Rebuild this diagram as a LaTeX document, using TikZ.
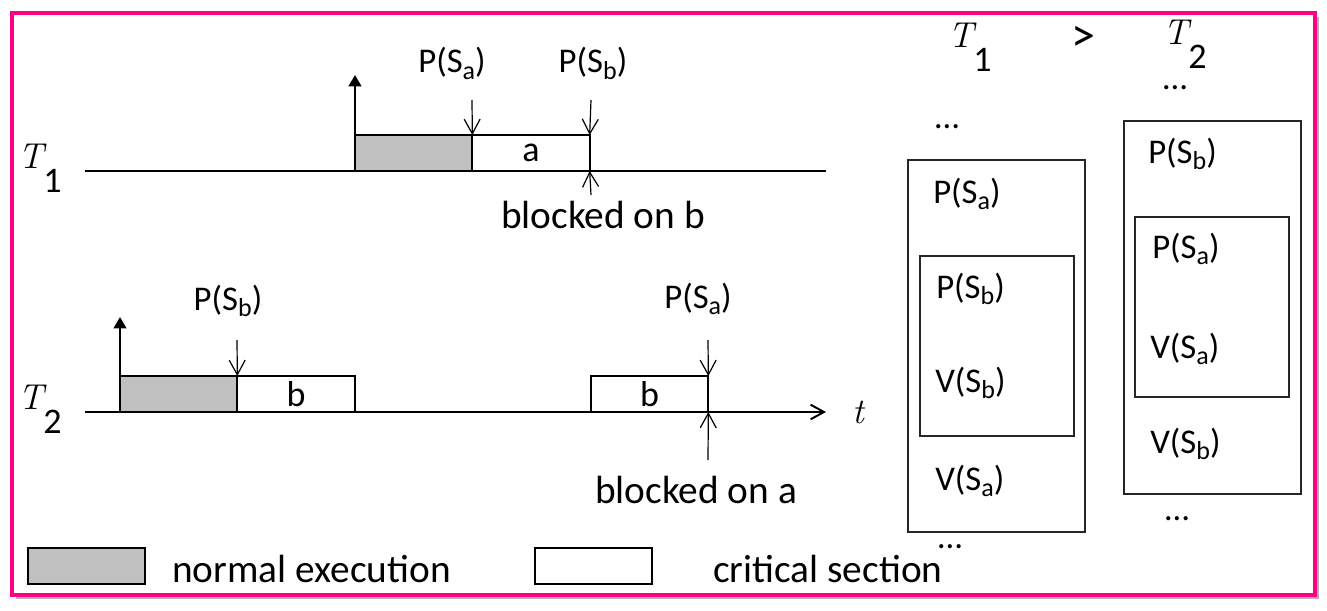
\documentclass[tikz,border=0pt]{standalone}
\usepackage{fontspec}
\setmainfont{Carlito}
\newfontfamily\lmrfont{Latin Modern Roman}
\usetikzlibrary{arrows,arrows.meta,positioning,shadows}
\definecolor{framepink}{RGB}{255,0,128}
\definecolor{runfill}{RGB}{192,192,192}
\newcommand{\fsz}[1]{\fontsize{#1}{#1}\selectfont}
\newcommand{\tsk}[1]{{\lmrfont\itshape T}\raisebox{-18pt}{#1}}
\newcommand{\sem}[2]{#1(S\raisebox{-0.2em}{\scalebox{0.75}{#2}})}
\tikzset{
  slot/.style = {draw=black, line width=1.5pt, outer sep=0pt, inner sep=0pt, minimum width=88pt, minimum height=27pt, font=\fsz{27}},
  run_box/.style = {slot, fill=runfill},
  cs_box/.style = {slot, fill=white},
  axis/.style = {line width=1.5pt},
  start_arrow/.style = {line width=1.5pt, -{Triangle[length=8.5pt,width=9.5pt]}},
  sem_arrow/.style = {line width=0.9pt, -{Straight Barb[length=11pt,width=12pt]}},
  p_lbl/.style = {font=\fsz{26}, anchor=base, inner sep=0pt},
  note_lbl/.style = {font=\fsz{29.5}, anchor=base, inner sep=0pt},
  name_lbl/.style = {font=\fsz{27}, anchor=base west, inner sep=0pt},
  code_box/.style = {draw=black!85, line width=1.1pt, anchor=north west, outer sep=0pt, inner sep=0pt},
  code_lbl/.style = {font=\fsz{26}, anchor=base west, inner sep=0pt},
  dots_lbl/.style = {font=\fsz{26}, inner sep=0pt},
  frame_box/.style = {draw=framepink, line width=3pt, fill=white,
    drop shadow={shadow xshift=3pt, shadow yshift=-3pt, fill=black!50, opacity=0.6}},
}
\begin{document}
\begin{tikzpicture}[x=0.75pt, y=-0.75pt]
  \useasboundingbox (0,0) rectangle (1327,610);
  \draw[frame_box] (12,13) rectangle (1315,595);

  % T1 timeline
  \node[name_lbl] (t1_name) at (18,168) {\tsk{1}};
  \coordinate (t1_from) at (85,171);
  \coordinate (t1_to) at (826,171);
  \draw[axis] (t1_from) -- (t1_to);
  \node[run_box, anchor=south west] (t1_run) at (355,171) {};
  \node[cs_box, right=0pt of t1_run] (t1_cs) {a};
  \coordinate (t1_start) at (355,75);
  \draw[start_arrow] (t1_run.south west) -- (t1_start);
  \coordinate (t1_pa) at (472,100);
  \draw[sem_arrow] (t1_pa) -- (t1_cs.north west);
  \node[p_lbl] (t1_pa_lbl) at (452,73) {\sem{P}{a}};
  \coordinate (t1_pb) at (591,100);
  \draw[sem_arrow] (t1_pb) -- (t1_cs.north east);
  \node[p_lbl] (t1_pb_lbl) at (593,73) {\sem{P}{b}};
  \coordinate (t1_blk) at (591,195);
  \draw[sem_arrow] (t1_blk) -- (t1_cs.south east);
  \node[note_lbl] (t1_blk_lbl) at (603,228) {blocked on b};

  % T2 timeline
  \node[name_lbl] (t2_name) at (18,409) {\tsk{2}};
  \coordinate (t2_from) at (85,412);
  \coordinate (t2_to) at (826,412);
  \draw[axis, -{Straight Barb[length=10pt,width=11pt]}] (t2_from) -- (t2_to);
  \node[name_lbl, font=\fsz{27}\lmrfont\itshape] (t_name) at (852,423) {t};
  \node[run_box, anchor=south west] (t2_run) at (120,412) {};
  \node[cs_box, right=0pt of t2_run] (t2_cs) {b};
  \coordinate (t2_start) at (120,317);
  \draw[start_arrow] (t2_run.south west) -- (t2_start);
  \coordinate (t2_pb) at (237,340);
  \draw[sem_arrow] (t2_pb) -- (t2_cs.north west);
  \node[p_lbl] (t2_pb_lbl) at (228,310) {\sem{P}{b}};
  \node[cs_box, anchor=south west] (t2_cs2) at (591,412) {b};
  \coordinate (t2_pa) at (708,340);
  \draw[sem_arrow] (t2_pa) -- (t2_cs2.north east);
  \node[p_lbl] (t2_pa_lbl) at (698,308) {\sem{P}{a}};
  \coordinate (t2_blk) at (708,460);
  \draw[sem_arrow] (t2_blk) -- (t2_cs2.south east);
  \node[note_lbl] (t2_blk_lbl) at (696,503) {blocked on a};

  % code of the two tasks
  \node[name_lbl] (o_t1) at (948,48) {\tsk{1}};
  \node[font=\fsz{36}, inner sep=0pt] (o_gt) at (1083,39) {>};
  \node[name_lbl] (o_t2) at (1163,45) {\tsk{2}};

  \node[code_box, minimum width=132.75pt, minimum height=279pt] (t1_code) at (908,160) {};
  \node[code_box, minimum width=115.5pt, minimum height=135pt] (t1_inner) at (920,256) {};
  \node[dots_lbl] (t1_dots_a) at (947,127) {…};
  \node[code_lbl] (t1_c1) at (933,203) {\sem{P}{a}};
  \node[code_lbl] (t1_c2) at (936,298) {\sem{P}{b}};
  \node[code_lbl] (t1_c3) at (935,392) {\sem{V}{b}};
  \node[code_lbl] (t1_c4) at (935,490) {\sem{V}{a}};
  \node[dots_lbl] (t1_dots_b) at (950,547) {…};

  \node[code_box, minimum width=132.75pt, minimum height=279.75pt] (t2_code) at (1124,121) {};
  \node[code_box, minimum width=115.5pt, minimum height=135pt] (t2_inner) at (1135,217) {};
  \node[dots_lbl] (t2_dots_a) at (1175,88) {…};
  \node[code_lbl] (t2_c1) at (1148,163) {\sem{P}{b}};
  \node[code_lbl] (t2_c2) at (1152,258) {\sem{P}{a}};
  \node[code_lbl] (t2_c3) at (1150,358) {\sem{V}{a}};
  \node[code_lbl] (t2_c4) at (1150,453) {\sem{V}{b}};
  \node[dots_lbl] (t2_dots_b) at (1177,519) {…};

  % legend
  \node[run_box, anchor=north west] (key_run) at (28,548) {};
  \node[note_lbl, anchor=base west] (key_run_lbl) at (172,582) {normal execution};
  \node[cs_box, anchor=north west] (key_cs) at (535,548) {};
  \node[note_lbl, anchor=base west] (key_cs_lbl) at (713,582) {critical section};
\end{tikzpicture}
\end{document}
